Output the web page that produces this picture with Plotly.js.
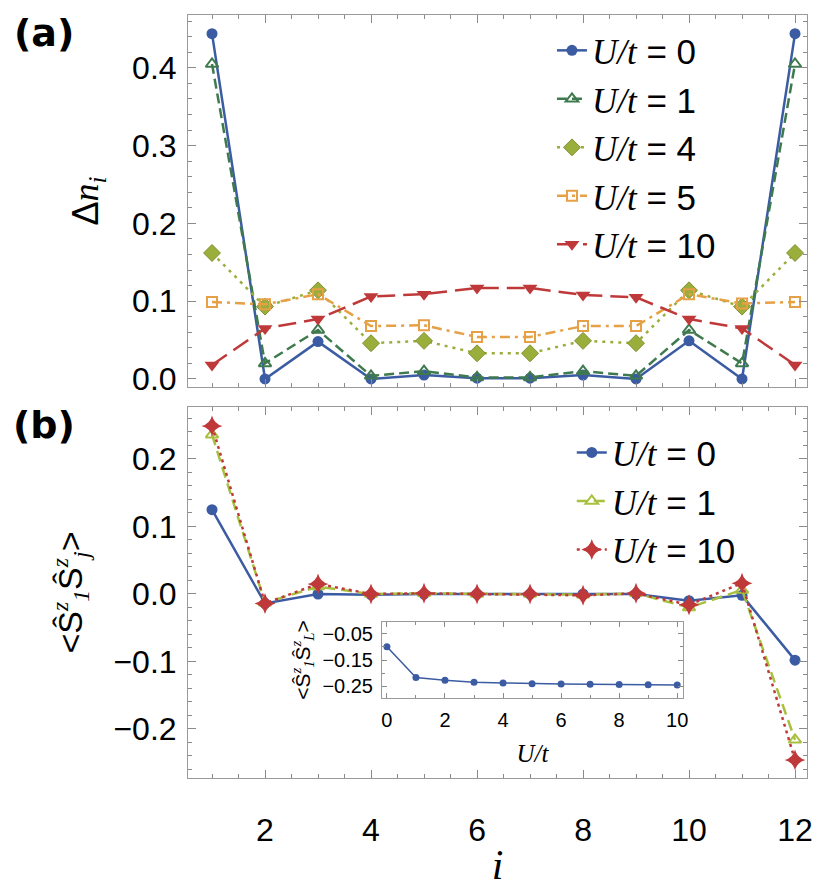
<!DOCTYPE html>
<html>
<head>
<meta charset="utf-8">
<script src="https://cdn.plot.ly/plotly-3.0.1.min.js"></script>
<style>html,body{margin:0;padding:0;background:#fff;}#chart{width:829px;height:894px;}</style>
</head>
<body>
<div id="chart"></div>
<script>
// ---- data ----
const sites = [1, 2, 3, 4, 5, 6, 7, 8, 9, 10, 11, 12];
const xTickVals = [2, 4, 6, 8, 10, 12];

// panel (a): Δn_i
const dn_U0  = [0.444, 0.000, 0.048, 0.000, 0.005, 0.001, 0.001, 0.005, 0.000, 0.049, 0.000, 0.444];
const dn_U1  = [0.405, 0.020, 0.063, 0.004, 0.010, 0.002, 0.002, 0.010, 0.004, 0.063, 0.020, 0.405];
const dn_U4  = [0.162, 0.093, 0.114, 0.046, 0.049, 0.033, 0.033, 0.049, 0.046, 0.114, 0.093, 0.162];
const dn_U5  = [0.099, 0.096, 0.109, 0.068, 0.069, 0.054, 0.054, 0.068, 0.068, 0.109, 0.097, 0.099];
const dn_U10 = [0.018, 0.065, 0.077, 0.106, 0.109, 0.117, 0.117, 0.108, 0.105, 0.077, 0.065, 0.018];

// panel (b): <S1z Sjz>
const szz_U0  = [0.125, -0.014, 0.000, -0.001, 0.000, 0.000, 0.000, 0.000, 0.000, -0.010, -0.002, -0.098];
const szz_U1  = [0.236, -0.013, 0.011, 0.000, 0.001, 0.000, 0.000, -0.001, 0.001, -0.020, 0.006, -0.216];
const szz_U10 = [0.249, -0.014, 0.015, 0.000, 0.001, 0.000, 0.000, -0.002, 0.001, -0.016, 0.016, -0.246];

// inset: <S1z SLz> vs U/t
const inset_U   = [0, 1, 2, 3, 4, 5, 6, 7, 8, 9, 10];
const inset_S1L = [-0.099, -0.217, -0.228, -0.235, -0.238, -0.241, -0.242, -0.243, -0.244, -0.245, -0.246];

const seriesNamesA = ['0', '1', '4', '5', '10'];
const seriesNamesB = ['0', '1', '10'];

// ---- styling helpers ----
const SERIF = 'Liberation Serif';
const SANS = 'Liberation Sans';
function it(s) { return "<span style='font-family:" + SERIF + ";font-style:italic'>" + s + "</span>"; }
function uName(v) { return it('U/t') + ' = ' + v; }

const C = {
  blue: '#3b5ca3', dgreen: '#3f7a4f', olive: '#9aae3b', orange: '#e6a045',
  red: '#c0393a', ygreen: '#a8c03f', frame: '#9a9a9a', tick: '#8a8a8a'
};

const traces = [
  // panel (a)
  {x: sites, y: dn_U0, name: uName(seriesNamesA[0]), xaxis: 'x', yaxis: 'y', mode: 'lines+markers',
   line: {color: C.blue, width: 2.5}, marker: {symbol: 'circle', size: 11, color: C.blue}, legend: 'legend'},
  {x: sites, y: dn_U1, name: uName(seriesNamesA[1]), xaxis: 'x', yaxis: 'y', mode: 'lines+markers',
   line: {color: C.dgreen, width: 2.5, dash: '10px,5px'},
   marker: {symbol: 'triangle-up-open', size: 11, color: C.dgreen, line: {width: 2, color: C.dgreen}}, legend: 'legend'},
  {x: sites, y: dn_U4, name: uName(seriesNamesA[2]), xaxis: 'x', yaxis: 'y', mode: 'lines+markers',
   line: {color: C.olive, width: 2.5, dash: '3px,5px'},
   marker: {symbol: 'diamond', size: 13, color: C.olive, line: {width: 1, color: '#7f9130'}}, legend: 'legend'},
  {x: sites, y: dn_U5, name: uName(seriesNamesA[3]), xaxis: 'x', yaxis: 'y', mode: 'lines+markers',
   line: {color: C.orange, width: 2.5, dash: '10px,5px,3px,5px'},
   marker: {symbol: 'square-open', size: 10, color: C.orange, line: {width: 2, color: C.orange}}, legend: 'legend'},
  {x: sites, y: dn_U10, name: uName(seriesNamesA[4]), xaxis: 'x', yaxis: 'y', mode: 'lines+markers',
   line: {color: C.red, width: 2.5, dash: '18px,8px'},
   marker: {symbol: 'triangle-down', size: 13, color: C.red}, legend: 'legend'},
  // panel (b)
  {x: sites, y: szz_U0, name: uName(seriesNamesB[0]), xaxis: 'x2', yaxis: 'y2', mode: 'lines+markers',
   line: {color: C.blue, width: 2.5}, marker: {symbol: 'circle', size: 11, color: C.blue}, legend: 'legend2'},
  {x: sites, y: szz_U1, name: uName(seriesNamesB[1]), xaxis: 'x2', yaxis: 'y2', mode: 'lines+markers',
   line: {color: C.ygreen, width: 2.5, dash: '11px,6px'},
   marker: {symbol: 'triangle-up-open', size: 11, color: C.ygreen, line: {width: 2, color: C.ygreen}}, legend: 'legend2'},
  {x: sites, y: szz_U10, name: uName(seriesNamesB[2]), xaxis: 'x2', yaxis: 'y2', mode: 'lines+markers',
   line: {color: C.red, width: 2.5, dash: '3px,4px'},
   marker: {symbol: 'star-diamond', size: 15, color: C.red}, legend: 'legend2'},
  // inset
  {x: inset_U, y: inset_S1L, xaxis: 'x3', yaxis: 'y3', mode: 'lines+markers', showlegend: false,
   line: {color: C.blue, width: 1.5}, marker: {symbol: 'circle', size: 7, color: C.blue}}
];

function frameAxis(extra) {
  return Object.assign({
    showline: true, linecolor: C.frame, linewidth: 1, mirror: 'allticks',
    ticks: 'inside', ticklen: 8, tickcolor: C.tick, tickwidth: 1,
    showgrid: false, zeroline: false, automargin: false,
    tickfont: {family: SANS, size: 32, color: '#000'}
  }, extra);
}

const xr = [0.547, 12.226];
const hatS = 'Ŝ';
const ylabB = '&lt;' + hatS + '<sup>' + it('z') + '</sup><sub>' + it('1') + '</sub>' +
              hatS + '<sup>' + it('z') + '</sup><sub>' + it('j') + '</sub>&gt;';
const ylabI = '&lt;' + hatS + '<sup>' + it('z') + '</sup><sub>' + it('1') + '</sub>' +
              hatS + '<sup>' + it('z') + '</sup><sub>' + it('L') + '</sub>&gt;';

const layout = {
  width: 829, height: 894,
  margin: {l: 188, r: 22, t: 15, b: 116},
  paper_bgcolor: '#fff', plot_bgcolor: '#fff',
  font: {family: SANS, color: '#000'},
  xaxis: frameAxis({anchor: 'y', domain: [0, 1], range: xr, tickvals: xTickVals, showticklabels: false,
    minor: {dtick: 0.5, tick0: 0, ticklen: 4, tickcolor: C.tick, ticks: 'inside'}}),
  yaxis: frameAxis({anchor: 'x', domain: [0.5125, 1], range: [-0.0103, 0.468], dtick: 0.1, tick0: 0,
    tickformat: '.1f', ticklabelstandoff: 4,
    minor: {dtick: 0.02, tick0: 0, ticklen: 4, tickcolor: C.tick, ticks: 'inside'},
    title: {text: 'Δ' + it('n') + '<sub>' + it('i') + '</sub>', font: {family: SANS, size: 36}, standoff: 22}}),
  xaxis2: frameAxis({anchor: 'y2', domain: [0, 1], range: xr, tickvals: xTickVals, ticklabelstandoff: 24,
    minor: {dtick: 0.5, tick0: 0, ticklen: 4, tickcolor: C.tick, ticks: 'inside'},
    title: {text: it('i'), font: {family: SERIF, size: 42}, standoff: 2}}),
  yaxis2: frameAxis({anchor: 'x2', domain: [0, 0.4862], range: [-0.2726, 0.277], dtick: 0.1, tick0: 0,
    tickformat: '.1f', ticklabelstandoff: 4,
    minor: {dtick: 0.02, tick0: 0, ticklen: 4, tickcolor: C.tick, ticks: 'inside'},
    title: {text: ylabB, font: {family: SANS, size: 34}, standoff: 20}}),
  xaxis3: frameAxis({anchor: 'y3', domain: [0.3134, 0.7997], range: [-0.17, 10.2], dtick: 2, tick0: 0,
    ticklen: 5, ticklabelstandoff: 4, tickfont: {family: SANS, size: 20, color: '#000'},
    minor: {dtick: 1, tick0: 0, ticklen: 3, tickcolor: C.tick, ticks: 'inside'},
    title: {text: it('U/t'), font: {family: SERIF, size: 25}, standoff: 14}}),
  yaxis3: frameAxis({anchor: 'x3', domain: [0.1048, 0.2045], range: [-0.296, -0.004], dtick: 0.1, tick0: -0.05,
    ticklen: 5, tickformat: '.2f', ticklabelstandoff: 4, tickfont: {family: SANS, size: 20, color: '#000'},
    minor: {dtick: 0.05, tick0: -0.05, ticklen: 3, tickcolor: C.tick, ticks: 'inside'},
    title: {text: ylabI, font: {family: SANS, size: 21}, standoff: 6}}),
  legend: {x: 0.588, y: 0.992, xanchor: 'left', yanchor: 'top', xref: 'paper', yref: 'paper',
    bgcolor: 'rgba(0,0,0,0)', borderwidth: 0, font: {family: SANS, size: 35, color: '#000'},
    tracegroupgap: 0, itemwidth: 30},
  legend2: {x: 0.62, y: 0.465, xanchor: 'left', yanchor: 'top', xref: 'paper', yref: 'paper',
    bgcolor: 'rgba(0,0,0,0)', borderwidth: 0, font: {family: SANS, size: 35, color: '#000'},
    tracegroupgap: 0, itemwidth: 30},
  annotations: [
    {text: '<b>(a)</b>', xref: 'paper', yref: 'paper', x: -0.2326, y: 0.9764, xanchor: 'center', yanchor: 'middle',
     showarrow: false, font: {family: 'DejaVu Sans', size: 38, color: '#000'}},
    {text: '<b>(b)</b>', xref: 'paper', yref: 'paper', x: -0.2326, y: 0.4626, xanchor: 'center', yanchor: 'middle',
     showarrow: false, font: {family: 'DejaVu Sans', size: 38, color: '#000'}}
  ],
  showlegend: true
};

Plotly.newPlot('chart', traces, layout, {staticPlot: true, displayModeBar: false});
</script>
</body>
</html>
